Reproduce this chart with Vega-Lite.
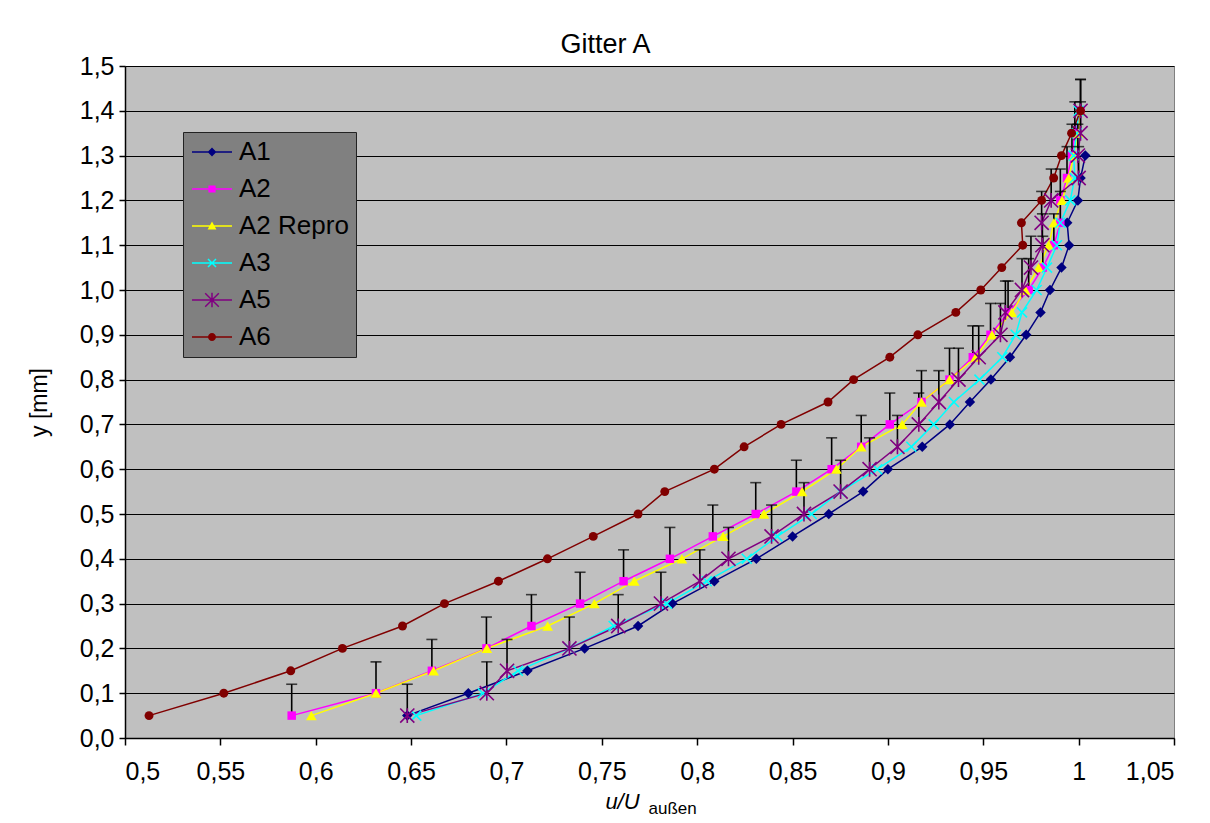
{
  "$schema": "https://vega.github.io/schema/vega-lite/v6.json",
  "width": 1049,
  "height": 672,
  "autosize": "none",
  "padding": {"left": 125, "top": 66, "right": 36, "bottom": 85},
  "background": "white",
  "title": {"text": "Gitter A", "font": "Liberation Sans", "fontSize": 27, "fontWeight": "normal", "color": "black", "dx": -44, "offset": -5},
  "config": {
    "view": {"fill": "#C0C0C0", "stroke": "#808080", "strokeWidth": 1},
    "axis": {"labelFont": "Liberation Sans", "titleFont": "Liberation Sans", "labelColor": "black", "titleColor": "black", "titleFontWeight": "normal", "domainColor": "black", "tickColor": "black"},
    "legend": {"labelFont": "Liberation Sans"}
  },
  "datasets": {
    "d": [
      {"s": "A1", "x": 0.648, "y": 0.05}, {"s": "A1", "x": 0.680, "y": 0.10}, {"s": "A1", "x": 0.711, "y": 0.15}, {"s": "A1", "x": 0.741, "y": 0.20},
      {"s": "A1", "x": 0.769, "y": 0.25}, {"s": "A1", "x": 0.787, "y": 0.30}, {"s": "A1", "x": 0.809, "y": 0.35}, {"s": "A1", "x": 0.831, "y": 0.40},
      {"s": "A1", "x": 0.850, "y": 0.45}, {"s": "A1", "x": 0.869, "y": 0.50}, {"s": "A1", "x": 0.887, "y": 0.55}, {"s": "A1", "x": 0.900, "y": 0.60},
      {"s": "A1", "x": 0.918, "y": 0.65}, {"s": "A1", "x": 0.9325, "y": 0.70}, {"s": "A1", "x": 0.943, "y": 0.75}, {"s": "A1", "x": 0.954, "y": 0.80},
      {"s": "A1", "x": 0.964, "y": 0.85}, {"s": "A1", "x": 0.9725, "y": 0.90}, {"s": "A1", "x": 0.980, "y": 0.95}, {"s": "A1", "x": 0.985, "y": 1.00},
      {"s": "A1", "x": 0.991, "y": 1.05}, {"s": "A1", "x": 0.995, "y": 1.10}, {"s": "A1", "x": 0.994, "y": 1.15}, {"s": "A1", "x": 0.9996, "y": 1.20},
      {"s": "A1", "x": 1.001, "y": 1.25}, {"s": "A1", "x": 1.0035, "y": 1.30},

      {"s": "A2", "x": 0.5874, "y": 0.05, "e": 0.12}, {"s": "A2", "x": 0.6316, "y": 0.10, "e": 0.17}, {"s": "A2", "x": 0.6609, "y": 0.15, "e": 0.22}, {"s": "A2", "x": 0.6895, "y": 0.20, "e": 0.27},
      {"s": "A2", "x": 0.7131, "y": 0.25, "e": 0.32}, {"s": "A2", "x": 0.7386, "y": 0.30, "e": 0.37}, {"s": "A2", "x": 0.7614, "y": 0.35, "e": 0.42}, {"s": "A2", "x": 0.7857, "y": 0.40, "e": 0.47},
      {"s": "A2", "x": 0.8082, "y": 0.45, "e": 0.52}, {"s": "A2", "x": 0.8307, "y": 0.50, "e": 0.57}, {"s": "A2", "x": 0.852, "y": 0.55, "e": 0.62}, {"s": "A2", "x": 0.8705, "y": 0.60, "e": 0.67},
      {"s": "A2", "x": 0.886, "y": 0.65, "e": 0.72}, {"s": "A2", "x": 0.901, "y": 0.70, "e": 0.77}, {"s": "A2", "x": 0.9176, "y": 0.75, "e": 0.82}, {"s": "A2", "x": 0.9323, "y": 0.80, "e": 0.87},
      {"s": "A2", "x": 0.9445, "y": 0.85, "e": 0.92}, {"s": "A2", "x": 0.9538, "y": 0.90, "e": 0.97}, {"s": "A2", "x": 0.963, "y": 0.95, "e": 1.02}, {"s": "A2", "x": 0.9738, "y": 1.00, "e": 1.07},
      {"s": "A2", "x": 0.9812, "y": 1.05, "e": 1.12}, {"s": "A2", "x": 0.987, "y": 1.10, "e": 1.17}, {"s": "A2", "x": 0.9904, "y": 1.15, "e": 1.22}, {"s": "A2", "x": 0.9904, "y": 1.20, "e": 1.27},
      {"s": "A2", "x": 0.9939, "y": 1.25, "e": 1.32}, {"s": "A2", "x": 0.9965, "y": 1.30, "e": 1.37}, {"s": "A2", "x": 0.998, "y": 1.35, "e": 1.42}, {"s": "A2", "x": 1.001, "y": 1.40, "e": 1.47},

      {"s": "A2 Repro", "x": 0.5977, "y": 0.05}, {"s": "A2 Repro", "x": 0.6316, "y": 0.10}, {"s": "A2 Repro", "x": 0.6618, "y": 0.15}, {"s": "A2 Repro", "x": 0.6897, "y": 0.20},
      {"s": "A2 Repro", "x": 0.7216, "y": 0.25}, {"s": "A2 Repro", "x": 0.7461, "y": 0.30}, {"s": "A2 Repro", "x": 0.767, "y": 0.35}, {"s": "A2 Repro", "x": 0.792, "y": 0.40},
      {"s": "A2 Repro", "x": 0.8136, "y": 0.45}, {"s": "A2 Repro", "x": 0.835, "y": 0.50}, {"s": "A2 Repro", "x": 0.855, "y": 0.55}, {"s": "A2 Repro", "x": 0.873, "y": 0.60},
      {"s": "A2 Repro", "x": 0.886, "y": 0.65}, {"s": "A2 Repro", "x": 0.9075, "y": 0.70}, {"s": "A2 Repro", "x": 0.9176, "y": 0.75}, {"s": "A2 Repro", "x": 0.9323, "y": 0.80},
      {"s": "A2 Repro", "x": 0.946, "y": 0.85}, {"s": "A2 Repro", "x": 0.9546, "y": 0.90}, {"s": "A2 Repro", "x": 0.965, "y": 0.95}, {"s": "A2 Repro", "x": 0.972, "y": 1.00},
      {"s": "A2 Repro", "x": 0.979, "y": 1.05}, {"s": "A2 Repro", "x": 0.9843, "y": 1.10}, {"s": "A2 Repro", "x": 0.987, "y": 1.15}, {"s": "A2 Repro", "x": 0.9913, "y": 1.20},
      {"s": "A2 Repro", "x": 0.9948, "y": 1.25}, {"s": "A2 Repro", "x": 0.9974, "y": 1.30}, {"s": "A2 Repro", "x": 0.9997, "y": 1.35}, {"s": "A2 Repro", "x": 1.001, "y": 1.40},

      {"s": "A3", "x": 0.6527, "y": 0.05}, {"s": "A3", "x": 0.6876, "y": 0.10}, {"s": "A3", "x": 0.706, "y": 0.15}, {"s": "A3", "x": 0.733, "y": 0.20},
      {"s": "A3", "x": 0.7562, "y": 0.25}, {"s": "A3", "x": 0.7841, "y": 0.30}, {"s": "A3", "x": 0.805, "y": 0.35}, {"s": "A3", "x": 0.826, "y": 0.40},
      {"s": "A3", "x": 0.842, "y": 0.45}, {"s": "A3", "x": 0.860, "y": 0.50}, {"s": "A3", "x": 0.875, "y": 0.55}, {"s": "A3", "x": 0.8944, "y": 0.60},
      {"s": "A3", "x": 0.9123, "y": 0.65}, {"s": "A3", "x": 0.924, "y": 0.70}, {"s": "A3", "x": 0.9346, "y": 0.75}, {"s": "A3", "x": 0.948, "y": 0.80},
      {"s": "A3", "x": 0.960, "y": 0.85}, {"s": "A3", "x": 0.967, "y": 0.90}, {"s": "A3", "x": 0.9703, "y": 0.95}, {"s": "A3", "x": 0.978, "y": 1.00},
      {"s": "A3", "x": 0.9834, "y": 1.05}, {"s": "A3", "x": 0.9886, "y": 1.10}, {"s": "A3", "x": 0.9904, "y": 1.15}, {"s": "A3", "x": 0.9956, "y": 1.20},
      {"s": "A3", "x": 0.998, "y": 1.25}, {"s": "A3", "x": 0.9974, "y": 1.30}, {"s": "A3", "x": 0.999, "y": 1.35}, {"s": "A3", "x": 1.000, "y": 1.40},

      {"s": "A5", "x": 0.648, "y": 0.05, "e": 0.12}, {"s": "A5", "x": 0.6897, "y": 0.10, "e": 0.17}, {"s": "A5", "x": 0.7003, "y": 0.15, "e": 0.22}, {"s": "A5", "x": 0.733, "y": 0.20, "e": 0.27},
      {"s": "A5", "x": 0.7586, "y": 0.25, "e": 0.32}, {"s": "A5", "x": 0.781, "y": 0.30, "e": 0.37}, {"s": "A5", "x": 0.8014, "y": 0.35, "e": 0.42}, {"s": "A5", "x": 0.8164, "y": 0.40, "e": 0.47},
      {"s": "A5", "x": 0.839, "y": 0.45, "e": 0.52}, {"s": "A5", "x": 0.856, "y": 0.50, "e": 0.57}, {"s": "A5", "x": 0.8752, "y": 0.55, "e": 0.62}, {"s": "A5", "x": 0.8904, "y": 0.60, "e": 0.67},
      {"s": "A5", "x": 0.905, "y": 0.65, "e": 0.72}, {"s": "A5", "x": 0.9162, "y": 0.70, "e": 0.77}, {"s": "A5", "x": 0.9267, "y": 0.75, "e": 0.82}, {"s": "A5", "x": 0.937, "y": 0.80, "e": 0.87},
      {"s": "A5", "x": 0.9476, "y": 0.85, "e": 0.92}, {"s": "A5", "x": 0.959, "y": 0.90, "e": 0.97}, {"s": "A5", "x": 0.9616, "y": 0.95, "e": 1.02}, {"s": "A5", "x": 0.9703, "y": 1.00, "e": 1.07},
      {"s": "A5", "x": 0.975, "y": 1.05, "e": 1.12}, {"s": "A5", "x": 0.981, "y": 1.10, "e": 1.17}, {"s": "A5", "x": 0.9806, "y": 1.15, "e": 1.22}, {"s": "A5", "x": 0.9856, "y": 1.20, "e": 1.27},
      {"s": "A5", "x": 1.000, "y": 1.25, "e": 1.32}, {"s": "A5", "x": 0.9996, "y": 1.30, "e": 1.37}, {"s": "A5", "x": 1.001, "y": 1.35, "e": 1.42}, {"s": "A5", "x": 1.001, "y": 1.40, "e": 1.47},

      {"s": "A6", "x": 0.5126, "y": 0.05}, {"s": "A6", "x": 0.5518, "y": 0.10}, {"s": "A6", "x": 0.5869, "y": 0.15}, {"s": "A6", "x": 0.614, "y": 0.20},
      {"s": "A6", "x": 0.6455, "y": 0.25}, {"s": "A6", "x": 0.6675, "y": 0.30}, {"s": "A6", "x": 0.6958, "y": 0.35}, {"s": "A6", "x": 0.7215, "y": 0.40},
      {"s": "A6", "x": 0.7455, "y": 0.45}, {"s": "A6", "x": 0.769, "y": 0.50}, {"s": "A6", "x": 0.783, "y": 0.55}, {"s": "A6", "x": 0.809, "y": 0.60},
      {"s": "A6", "x": 0.8246, "y": 0.65}, {"s": "A6", "x": 0.844, "y": 0.70}, {"s": "A6", "x": 0.8686, "y": 0.75}, {"s": "A6", "x": 0.882, "y": 0.80},
      {"s": "A6", "x": 0.901, "y": 0.85}, {"s": "A6", "x": 0.9157, "y": 0.90}, {"s": "A6", "x": 0.9356, "y": 0.95}, {"s": "A6", "x": 0.9487, "y": 1.00},
      {"s": "A6", "x": 0.9597, "y": 1.05}, {"s": "A6", "x": 0.9707, "y": 1.10}, {"s": "A6", "x": 0.970, "y": 1.15}, {"s": "A6", "x": 0.9806, "y": 1.20},
      {"s": "A6", "x": 0.9869, "y": 1.25}, {"s": "A6", "x": 0.991, "y": 1.30}, {"s": "A6", "x": 0.9963, "y": 1.35}, {"s": "A6", "x": 1.001, "y": 1.40}
    ]
  },
  "data": {"name": "d"},
  "resolve": {"axis": {"x": "independent"}},
  "layer": [
    {
      "mark": {"type": "line", "strokeWidth": 1.5},
      "encoding": {
        "x": {"field": "x", "type": "quantitative", "scale": {"domain": [0.5, 1.05], "nice": false, "zero": false},
          "axis": {"orient": "bottom", "values": [0.5, 0.55, 0.6, 0.65, 0.7, 0.75, 0.8, 0.85, 0.9, 0.95, 1, 1.05], "labelExpr": "replace(toString(round(datum.value*100)/100), '.', ',')",
            "grid": false, "labelFontSize": 25, "labelPadding": 14, "tickSize": 7, "tickWidth": 1.5, "domainWidth": 1.5,
            "title": "u/U", "titleFontStyle": "italic", "titleFontSize": 22, "titleX": 497, "titleY": 70, "titleAlign": "center", "titleBaseline": "alphabetic"}},
        "y": {"field": "y", "type": "quantitative", "scale": {"domain": [0, 1.5], "nice": false, "zero": false},
          "axis": {"values": [0, 0.1, 0.2, 0.3, 0.4, 0.5, 0.6, 0.7, 0.8, 0.9, 1.0, 1.1, 1.2, 1.3, 1.4, 1.5], "labelExpr": "replace(format(datum.value, '.1f'), '.', ',')",
            "grid": true, "gridColor": "black", "gridWidth": 1, "labelFontSize": 25, "labelPadding": 5, "tickSize": 6, "tickWidth": 1.5, "domainWidth": 1.5,
            "title": "y [mm]", "titleFontSize": 23, "titlePadding": 28}},
        "stroke": {"field": "s", "type": "nominal", "legend": null,
          "scale": {"range": ["#000080", "#FF00FF", "#FFFF00", "#00FFFF", "#800080", "#800000"]}},
        "order": {"field": "y", "type": "quantitative"}
      }
    },
    {
      "transform": [{"filter": "isValid(datum.e)"}],
      "mark": {"type": "rule", "color": "black", "strokeWidth": 1.6},
      "encoding": {
        "x": {"field": "x", "type": "quantitative", "axis": null},
        "y": {"field": "y", "type": "quantitative"},
        "y2": {"field": "e"}
      }
    },
    {
      "transform": [{"filter": "isValid(datum.e)"}],
      "mark": {"type": "tick", "color": "black", "orient": "horizontal", "size": 11, "thickness": 1.6},
      "encoding": {
        "x": {"field": "x", "type": "quantitative", "axis": null},
        "y": {"field": "e", "type": "quantitative"}
      }
    },
    {
      "transform": [{"filter": "datum.s == 'A1'"}],
      "mark": {"type": "point", "filled": true, "shape": "diamond", "size": 110, "color": "#000080", "opacity": 1},
      "encoding": {"x": {"field": "x", "type": "quantitative", "axis": null}, "y": {"field": "y", "type": "quantitative"}}
    },
    {
      "transform": [{"filter": "datum.s == 'A2'"}],
      "mark": {"type": "point", "filled": true, "shape": "square", "size": 72, "color": "#FF00FF", "opacity": 1},
      "encoding": {"x": {"field": "x", "type": "quantitative", "axis": null}, "y": {"field": "y", "type": "quantitative"}}
    },
    {
      "transform": [{"filter": "datum.s == 'A2 Repro'"}],
      "mark": {"type": "point", "filled": true, "shape": "triangle-up", "size": 115, "color": "#FFFF00", "opacity": 1},
      "encoding": {"x": {"field": "x", "type": "quantitative", "axis": null}, "y": {"field": "y", "type": "quantitative"}}
    },
    {
      "transform": [{"filter": "datum.s == 'A3'"}],
      "mark": {"type": "point", "filled": false, "shape": "M-1,-1L1,1M-1,1L1,-1", "size": 100, "color": "#00FFFF", "strokeWidth": 1.6, "opacity": 1},
      "encoding": {"x": {"field": "x", "type": "quantitative", "axis": null}, "y": {"field": "y", "type": "quantitative"}}
    },
    {
      "transform": [{"filter": "datum.s == 'A5'"}],
      "mark": {"type": "point", "filled": false, "shape": "M-1,-1L1,1M-1,1L1,-1M0,-1.05L0,1.05", "size": 200, "color": "#800080", "strokeWidth": 1.6, "opacity": 1},
      "encoding": {"x": {"field": "x", "type": "quantitative", "axis": null}, "y": {"field": "y", "type": "quantitative"}}
    },
    {
      "transform": [{"filter": "datum.s == 'A6'"}],
      "mark": {"type": "point", "filled": true, "shape": "circle", "size": 80, "color": "#800000", "opacity": 1},
      "encoding": {"x": {"field": "x", "type": "quantitative", "axis": null}, "y": {"field": "y", "type": "quantitative"}}
    },
    {
      "transform": [{"filter": "false"}],
      "mark": {"type": "point", "filled": true, "opacity": 1},
      "encoding": {
        "x": {"field": "x", "type": "quantitative",
          "axis": {"orient": "bottom", "title": "außen", "labels": false, "ticks": false, "domain": false, "grid": false, "titleFontSize": 17, "titleX": 523, "titleY": 75, "titleAlign": "left", "titleBaseline": "alphabetic"}},
        "y": {"field": "y", "type": "quantitative"},
        "color": {"field": "s", "type": "nominal",
          "scale": {"domain": ["A1", "A2", "A2 Repro", "A3", "A5", "A6"], "range": ["#000080", "#FF00FF", "#FFFF00", "#00FFFF", "#800080", "#800000"]},
          "legend": {"title": null, "orient": "none", "legendX": 58, "legendY": 66, "fillColor": "#808080", "strokeColor": "#222222", "padding": 7,
            "labelFontSize": 26, "labelColor": "black", "symbolSize": 64, "symbolOffset": 9, "labelOffset": 14, "rowPadding": 11, "symbolStrokeWidth": 0, "symbolOpacity": 1}},
        "shape": {"field": "s", "type": "nominal",
          "scale": {"domain": ["A1", "A2", "A2 Repro", "A3", "A5", "A6"],
            "range": [
              "M-5,-0.19L5,-0.19L5,0.19L-5,0.19ZM0,-1.1L1.1,0L0,1.1L-1.1,0Z",
              "M-5,-0.19L5,-0.19L5,0.19L-5,0.19ZM-0.9,-0.9L0.9,-0.9L0.9,0.9L-0.9,0.9Z",
              "M-5,-0.19L5,-0.19L5,0.19L-5,0.19ZM0,-1.1L1.1,0.9L-1.1,0.9Z",
              "M-5,-0.19L5,-0.19L5,0.19L-5,0.19ZM-0.87,-1.13L1.13,0.87L0.87,1.13L-1.13,-0.87ZM-1.13,0.87L0.87,-1.13L1.13,-0.87L-0.87,1.13Z",
              "M-5,-0.19L5,-0.19L5,0.19L-5,0.19ZM-1.57,-1.83L1.83,1.57L1.57,1.83L-1.83,-1.57ZM-1.83,1.57L1.57,-1.83L1.83,-1.57L-1.57,1.83ZM-0.19,-1.8L0.19,-1.8L0.19,1.8L-0.19,1.8Z",
              "M-5,-0.19L5,-0.19L5,0.19L-5,0.19ZM1,0A1,1 0 1,1 -1,0A1,1 0 1,1 1,0Z"
            ]},
          "legend": {"title": null, "orient": "none", "legendX": 58, "legendY": 66, "fillColor": "#808080", "strokeColor": "#222222", "padding": 7,
            "labelFontSize": 26, "labelColor": "black", "symbolSize": 64, "symbolOffset": 9, "labelOffset": 14, "rowPadding": 11, "symbolStrokeWidth": 0, "symbolOpacity": 1}}
      }
    }
  ]
}
